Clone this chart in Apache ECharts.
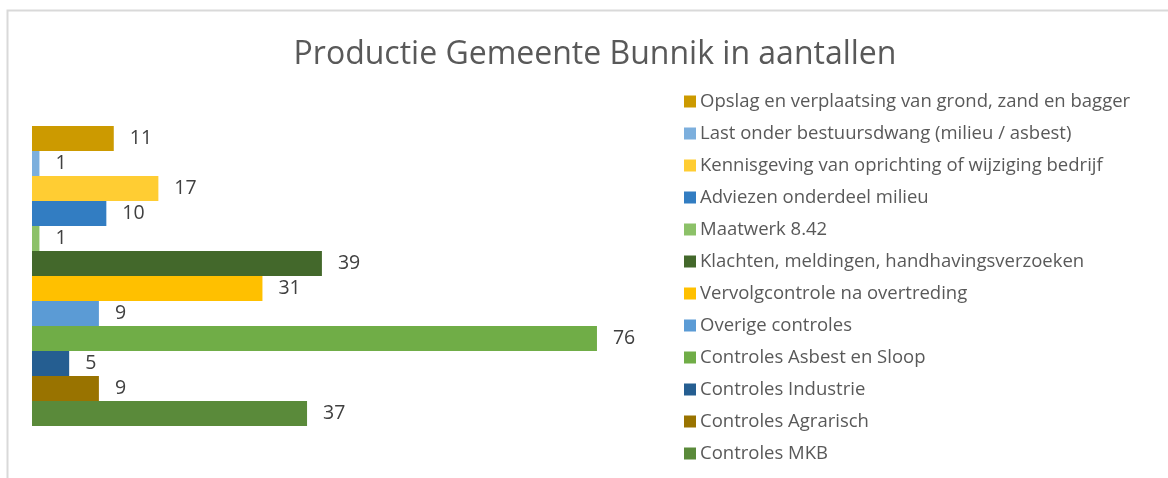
<!DOCTYPE html>
<html>
<head>
<meta charset="utf-8">
<script src="https://cdn.jsdelivr.net/npm/echarts@6/dist/echarts.min.js"></script>
<style>
  html, body { margin: 0; padding: 0; background: #fff; }
  #chart { width: 1168px; height: 478px; }
</style>
</head>
<body>
<div id="chart"></div>
<script>
// series listed from the top bar downwards (same as legend)
const seriesNames = [
  'Opslag en verplaatsing van grond, zand en bagger',
  'Last onder bestuursdwang (milieu / asbest)',
  'Kennisgeving van oprichting of wijziging bedrijf',
  'Adviezen onderdeel milieu',
  'Maatwerk 8.42',
  'Klachten, meldingen, handhavingsverzoeken',
  'Vervolgcontrole na overtreding',
  'Overige controles',
  'Controles Asbest en Sloop',
  'Controles Industrie',
  'Controles Agrarisch',
  'Controles MKB'
]
const seriesValues = [11, 1, 17, 10, 1, 39, 31, 9, 76, 5, 9, 37]
const seriesColors = [
  '#CC9A00', '#7CAFDD', '#FFCD33', '#327DC2', '#8CC168', '#43682B',
  '#FFC000', '#5B9BD5', '#70AD47', '#255E91', '#997300', '#5A8A3A'
]
const category = ['']

const font = '"Open Sans", sans-serif'

const chart = echarts.init(document.getElementById('chart'))
const option = {
  animation: false,
  textStyle: { fontFamily: font },
  title: {
    text: 'Productie Gemeente Bunnik in aantallen',
    left: 590,
    textAlign: 'center',
    top: 34,
    textStyle: { fontSize: 32, fontWeight: 'normal', color: '#595959', fontFamily: font }
  },
  graphic: [{
    type: 'rect',
    shape: { x: 7.5, y: 10.5, width: 1300, height: 600 },
    style: { fill: 'none', stroke: '#D9D9D9', lineWidth: 2 },
    silent: true
  }],
  legend: {
    orient: 'vertical',
    left: 684,
    top: 92,
    padding: 0,
    itemWidth: 12,
    itemHeight: 12,
    itemGap: 13,
    icon: 'rect',
    data: seriesNames,
    textStyle: { fontSize: 18.5, lineHeight: 18, color: '#595959', padding: [0, 0, 0, -1], fontFamily: font }
  },
  grid: {
    left: 32,
    top: 126,
    height: 300,
    width: 594.7
  },
  xAxis: {
    type: 'value',
    min: 0,
    max: 80,
    show: false
  },
  yAxis: {
    type: 'category',
    data: category,
    show: false
  },
  series: seriesNames.map((name, i) => ({
    name: name,
    type: 'bar',
    data: [seriesValues[i]],
    barGap: '0%',
    barCategoryGap: '0%',
    itemStyle: { color: seriesColors[i] },
    label: {
      show: true,
      position: 'right',
      distance: 16,
      fontSize: 19.5,
      color: '#404040',
      fontFamily: font
    }
  }))
}
chart.setOption(option)
</script>
</body>
</html>
